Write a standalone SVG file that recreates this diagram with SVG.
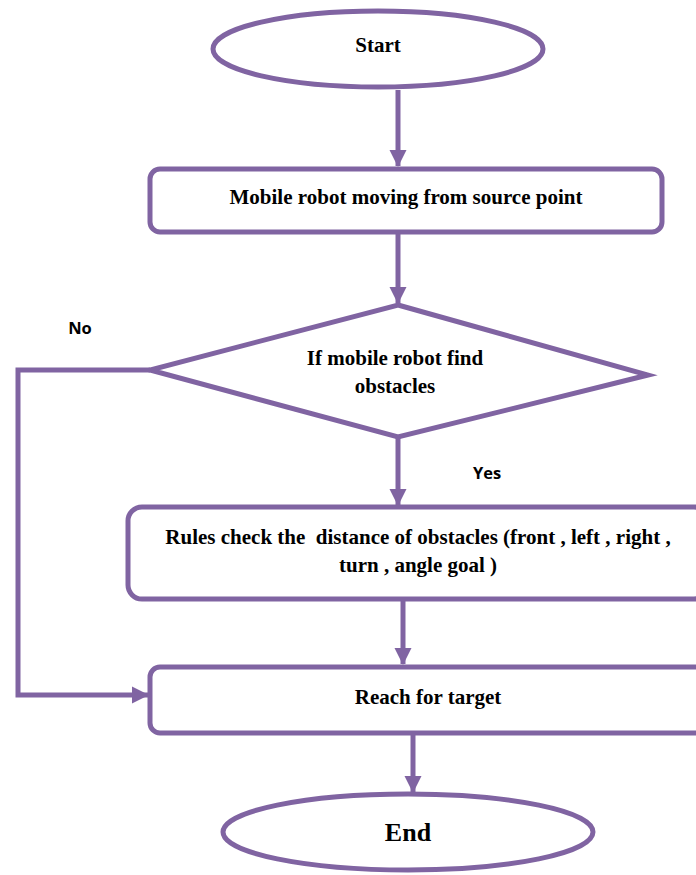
<svg xmlns="http://www.w3.org/2000/svg" width="696" height="875" viewBox="0 0 696 875">
<style>
.s{fill:#fff;stroke:#8064A2;stroke-width:5}
.c{fill:none;stroke:#8064A2;stroke-width:5}
.t{font-family:"Liberation Serif","Times New Roman",serif;font-weight:bold;font-size:21px;fill:#000;text-anchor:middle}
.l{font-family:"Open Sans","Liberation Sans",sans-serif;font-weight:bold;font-size:16.5px;fill:#000;text-anchor:middle}
</style>
<defs>
<marker id="a" markerWidth="4" markerHeight="4" refX="3.2" refY="2" orient="auto" markerUnits="strokeWidth">
<path d="M0,0.3 L3.4,2 L0,3.7 Z" fill="#8064A2"/>
</marker>
</defs>
<rect width="696" height="875" fill="#fff"/>
<g id="connectors">
<line class="c" x1="398" y1="90" x2="398" y2="166" marker-end="url(#a)"/>
<line class="c" x1="398" y1="232" x2="398" y2="303" marker-end="url(#a)"/>
<line class="c" x1="398" y1="437" x2="398" y2="505" marker-end="url(#a)"/>
<line class="c" x1="403" y1="599" x2="403" y2="664" marker-end="url(#a)"/>
<line class="c" x1="413" y1="733" x2="413" y2="792" marker-end="url(#a)"/>
<polyline class="c" points="150,370 18,370 18,695 148,695" marker-end="url(#a)"/>
</g>
<g id="start">
<ellipse class="s" cx="378" cy="49" rx="165" ry="38"/>
<text class="t" x="378" y="52">Start</text>
</g>
<g id="move">
<rect class="s" x="150" y="169" width="512" height="63" rx="10"/>
<text class="t" x="406" y="204">Mobile robot moving from source point</text>
</g>
<g id="decision">
<polygon class="s" points="398,305 648,375 398,437 150,370"/>
<text class="t" x="395" y="365">If mobile robot find</text>
<text class="t" x="395" y="393">obstacles</text>
</g>
<g id="rules">
<rect class="s" x="128" y="507" width="580" height="92" rx="14"/>
<text class="t" x="418" y="544" xml:space="preserve">Rules check the  distance of obstacles (front , left , right ,</text>
<text class="t" x="418" y="572">turn , angle goal )</text>
</g>
<g id="reach">
<rect class="s" x="150" y="667" width="560" height="66" rx="10"/>
<text class="t" x="428" y="704">Reach for target</text>
</g>
<g id="end">
<ellipse class="s" cx="408" cy="832" rx="185" ry="38"/>
<text class="t" x="408" y="841" style="font-size:26px">End</text>
</g>
<text class="l" x="80" y="334">No</text>
<text class="l" x="487" y="479">Yes</text>
</svg>
